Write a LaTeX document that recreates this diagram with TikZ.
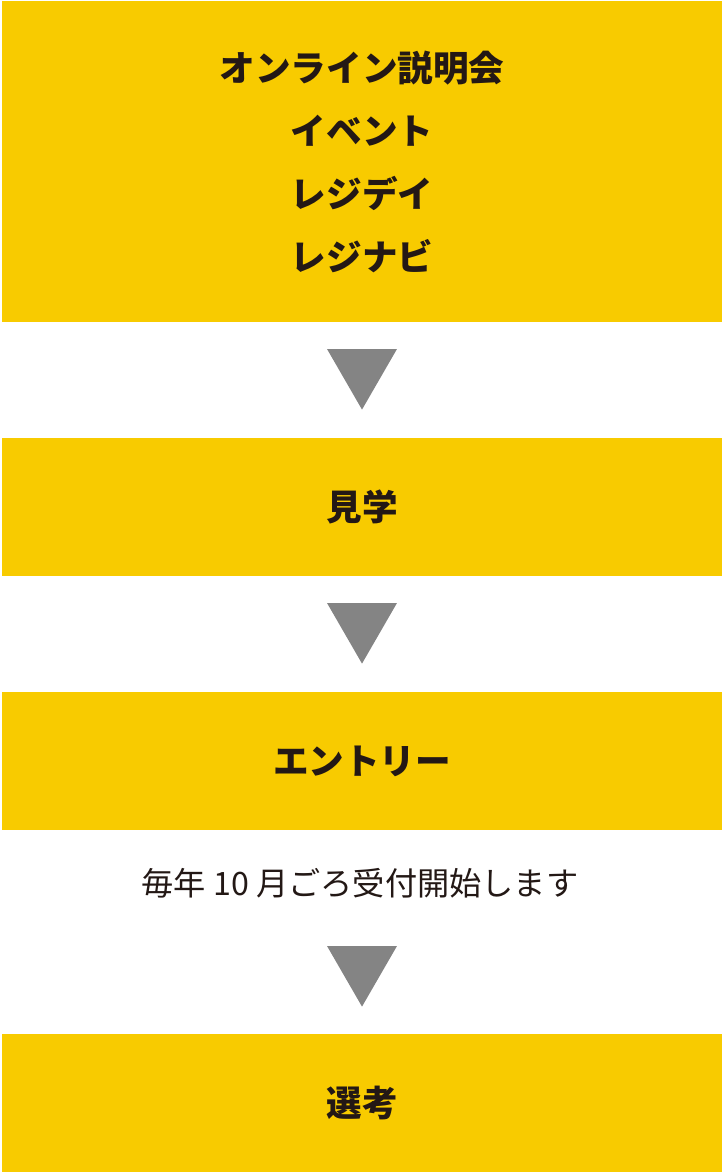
\documentclass[tikz,border=0pt]{standalone}
\usepackage{fontspec}
\setmainfont{Noto Sans CJK JP}
\usepackage{tikz}
\usetikzlibrary{shapes.geometric}
\definecolor{stageyellow}{HTML}{F8CB00}
\definecolor{markgray}{HTML}{848484}
\definecolor{inkbrown}{HTML}{231815}
\tikzset{stagebox/.style={fill=stageyellow, text=inkbrown, inner sep=0pt,
   minimum width=720pt, align=center, font=\bfseries\fontsize{35.6pt}{63pt}\selectfont},
   downmark/.style={fill=markgray, regular polygon, regular polygon sides=3,
   shape border rotate=180, minimum size=80.8pt, inner sep=0pt},
   notetext/.style={text=inkbrown, font=\fontsize{32.2pt}{38pt}\selectfont}}

\begin{document}
\begin{tikzpicture}[x=1pt,y=-1pt]
  \useasboundingbox (0,0) rectangle (723,1172);
  \node[stagebox, minimum height=321pt] (info) at (362,161.5)
    {オンライン説明会\\イベント\\レジデイ\\レジナビ};
  \node[downmark] (m1) at (362,369.2) {};
  \node[stagebox, minimum height=138pt] (visit) at (362,507) {見学};
  \node[downmark] (m2) at (362,623.2) {};
  \node[stagebox, minimum height=138pt] (entry) at (362,761) {エントリー};
  \node[notetext] (note) at (360,883) {毎年 10 月ごろ受付開始します};
  \node[downmark] (m3) at (362,966.2) {};
  \node[stagebox, minimum height=138pt] (select) at (362,1103) {選考};
\end{tikzpicture}
\end{document}
